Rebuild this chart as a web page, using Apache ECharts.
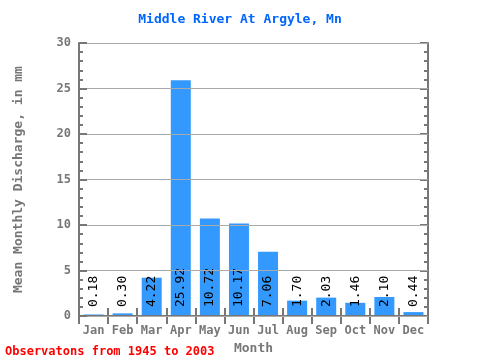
<!DOCTYPE html>
<html><head><meta charset="utf-8">
<script src="https://cdn.jsdelivr.net/npm/echarts@6/dist/echarts.min.js"></script>
<style>html,body{margin:0;padding:0;background:#fff}#c{width:480px;height:360px}</style>
</head><body><div id="c"></div>
<script>
var months = ['Jan','Feb','Mar','Apr','May','Jun','Jul','Aug','Sep','Oct','Nov','Dec'];
var discharge = [0.18,0.30,4.22,25.92,10.72,10.17,7.06,1.70,2.03,1.46,2.10,0.44];
var yTicks = {min:0, max:30, interval:5};
var F = 'DejaVu Sans Mono, monospace';
var gray = '#777';
var chart = echarts.init(document.getElementById('c'));
function yAx(pos, main){
  return {type:'value', position:pos, min:yTicks.min, max:yTicks.max, interval:yTicks.interval, z: main?5:4,
    name: main?'Mean Monthly Discharge, in mm':'', nameLocation:'middle', nameGap:54,
    nameTextStyle:{color:gray, fontFamily:F, fontSize:13, fontWeight:'bold'},
    axisLine:{show:true, lineStyle:{color:gray, width:2}},
    axisTick:{show:true, inside:true, length:8, lineStyle:{color:gray, width:2}},
    minorTick:{show:true, splitNumber:5, length:4, lineStyle:{color:gray, width:2}},
    axisLabel:{show:main, color:gray, fontFamily:F, fontSize:12, fontWeight:'bold', margin:8},
    splitLine:{show:main, lineStyle:{color:'#aaa', width:1}}
  };
}
function xAx(pos, main){
  return {type:'category', position:pos, data:months, z:4,
    name: main?'Month':'', nameLocation:'middle', nameGap:19,
    nameTextStyle:{color:gray, fontFamily:F, fontSize:13, fontWeight:'bold', verticalAlign:'top'},
    axisLine:{show:true, lineStyle:{color:gray, width:2}},
    axisTick:{show:true, inside:true, length:8, lineStyle:{color:gray, width:2}},
    axisLabel:{show:main, color:gray, fontFamily:F, fontSize:12, fontWeight:'bold', margin:9},
    splitLine:{show:false}
  };
}
chart.setOption({
  animation:false,
  title:{text:'Middle River At Argyle, Mn', left:'center', top:8,
    textStyle:{color:'#0066ff', fontFamily:F, fontSize:13, fontWeight:'bold'}},
  grid:{left:79, right:52, top:43, bottom:38},
  xAxis:[xAx('bottom',true), xAx('top',false)],
  yAxis:[yAx('left',true), yAx('right',false)],
  series:[{type:'bar', data:discharge, barWidth:20, xAxisIndex:0, yAxisIndex:0,
    itemStyle:{color:'#3399ff'},
    label:{show:true, position:'insideBottom', rotate:90, align:'left', verticalAlign:'middle', distance:9,
      color:'#000', fontFamily:F, fontSize:13,
      formatter:function(p){return p.value.toFixed(2);}}
  }],
  graphic:[{type:'text', left:5, top:346,
    style:{text:'Observatons from 1945 to 2003', fill:'#ff0000', font:'bold 12px DejaVu Sans Mono, monospace'}}]
});
</script></body></html>
